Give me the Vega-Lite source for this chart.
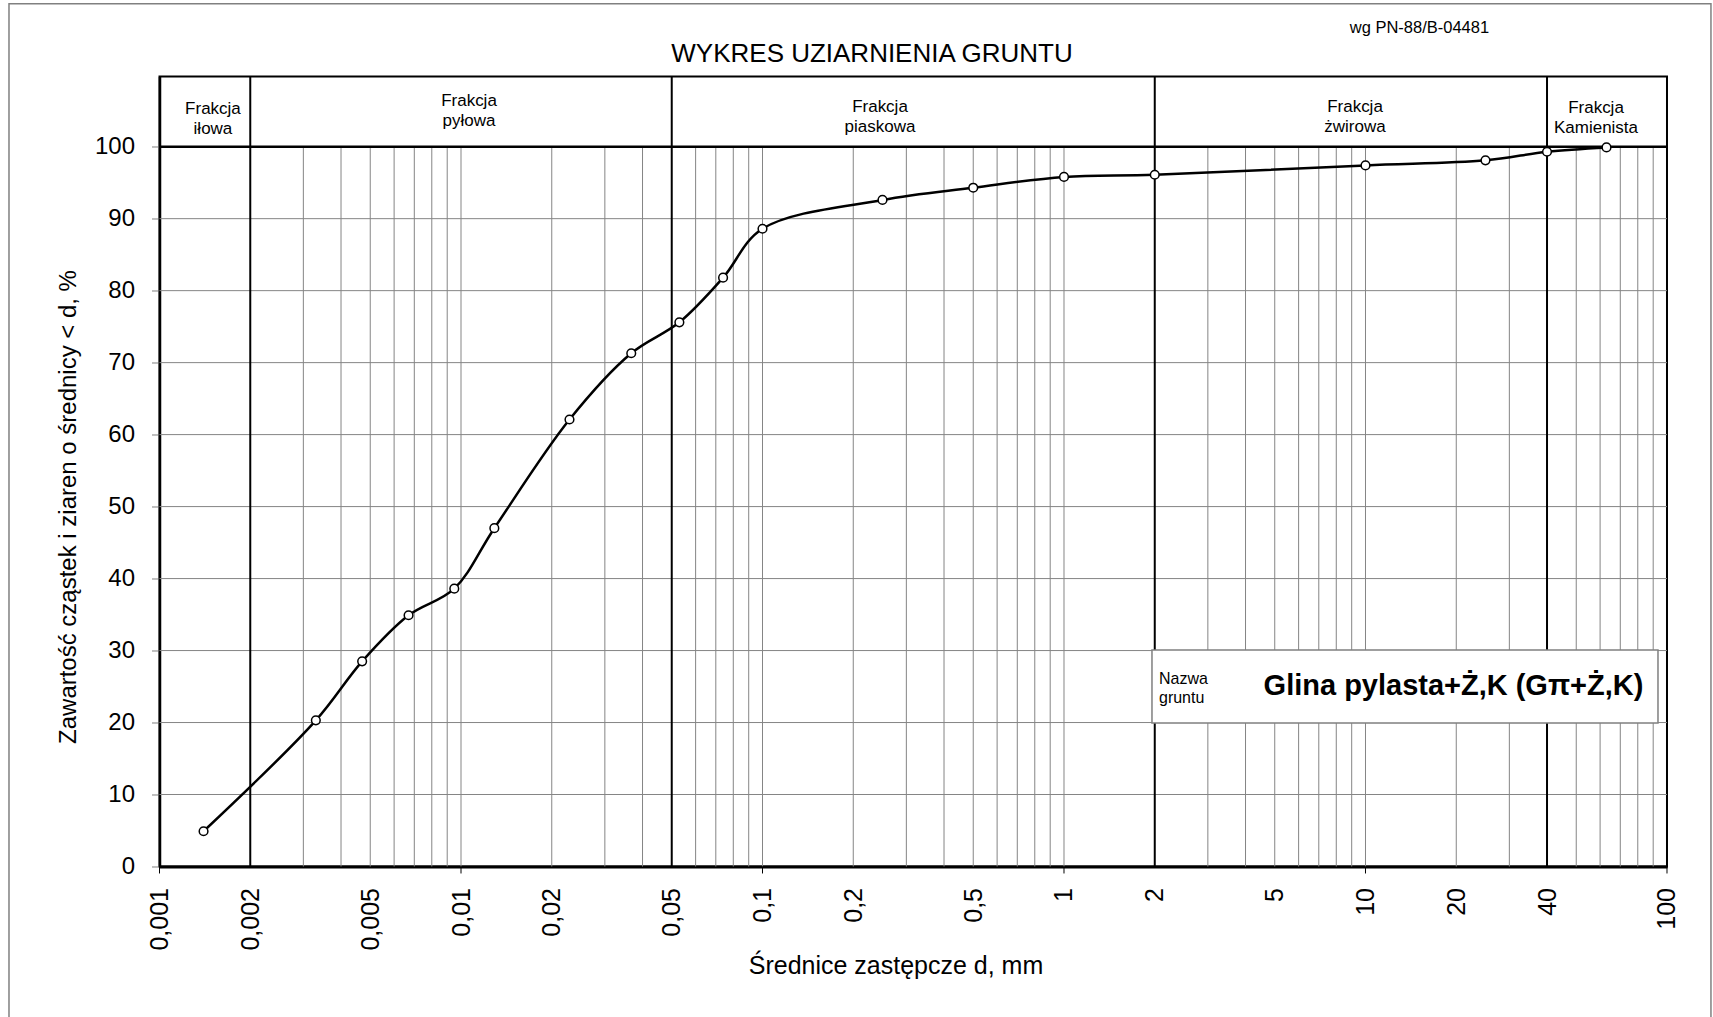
{
  "$schema": "https://vega.github.io/schema/vega-lite/v6.json",
  "width": 1507.5,
  "height": 790,
  "autosize": {"type": "none"},
  "padding": {"left": 159.5, "top": 76.5, "right": 46, "bottom": 150.6},
  "background": "white",
  "config": {
    "font": "Liberation Sans",
    "view": {"stroke": "black", "strokeWidth": 2},
    "axis": {"labelColor": "black", "titleColor": "black", "labelFont": "Liberation Sans", "titleFont": "Liberation Sans"}
  },
  "datasets": {
    "sieve": [
      {"d": 0.0014, "p": 4.9},
      {"d": 0.0033, "p": 20.3},
      {"d": 0.0047, "p": 28.5},
      {"d": 0.0067, "p": 34.9},
      {"d": 0.0095, "p": 38.6},
      {"d": 0.0129, "p": 47.0},
      {"d": 0.0229, "p": 62.1},
      {"d": 0.0367, "p": 71.3},
      {"d": 0.053, "p": 75.6},
      {"d": 0.074, "p": 81.8},
      {"d": 0.1, "p": 88.6},
      {"d": 0.25, "p": 92.6},
      {"d": 0.5, "p": 94.3},
      {"d": 1.0, "p": 95.8},
      {"d": 2.0, "p": 96.1},
      {"d": 10, "p": 97.4},
      {"d": 25, "p": 98.1},
      {"d": 40, "p": 99.3},
      {"d": 63, "p": 99.9}
    ],
    "vgrid": [
      {"v": 0.003}, {"v": 0.004}, {"v": 0.005}, {"v": 0.006}, {"v": 0.007}, {"v": 0.008}, {"v": 0.009},
      {"v": 0.01}, {"v": 0.02}, {"v": 0.03}, {"v": 0.04}, {"v": 0.06}, {"v": 0.07}, {"v": 0.08}, {"v": 0.09},
      {"v": 0.1}, {"v": 0.2}, {"v": 0.3}, {"v": 0.4}, {"v": 0.5}, {"v": 0.6}, {"v": 0.7}, {"v": 0.8}, {"v": 0.9},
      {"v": 1}, {"v": 3}, {"v": 4}, {"v": 5}, {"v": 6}, {"v": 7}, {"v": 8}, {"v": 9},
      {"v": 10}, {"v": 20}, {"v": 30}, {"v": 50}, {"v": 60}, {"v": 70}, {"v": 80}, {"v": 90}
    ],
    "decades": [{"v": 0.001}, {"v": 0.01}, {"v": 0.1}, {"v": 1}, {"v": 10}, {"v": 100}],
    "hgrid": [{"h": 10}, {"h": 20}, {"h": 30}, {"h": 40}, {"h": 50}, {"h": 60}, {"h": 70}, {"h": 80}, {"h": 90}],
    "topline": [{"h": 100}],
    "limits": [{"v": 0.002}, {"v": 0.05}, {"v": 2}, {"v": 40}],
    "fractions": [
      {"x": 0.001504, "y": 104.51, "label": "Frakcja\niłowa"},
      {"x": 0.01063, "y": 105.6, "label": "Frakcja\npyłowa"},
      {"x": 0.2453, "y": 104.84, "label": "Frakcja\npiaskowa"},
      {"x": 9.23, "y": 104.84, "label": "Frakcja\nżwirowa"},
      {"x": 58.15, "y": 104.66, "label": "Frakcja\nKamienista"}
    ],
    "namebox": [{"x1": 1.958, "x2": 93.35, "y1": 19.92, "y2": 30.06}],
    "namecap": [{"x": 2.066, "y": 25.33, "t": "Nazwa\ngruntu"}],
    "soilname": [{"x": 19.58, "y": 23.81, "t": "Glina pylasta+Ż,K (Gπ+Ż,K)"}],
    "heading": [{"x": 0.2308, "y": 111.74, "t": "WYKRES UZIARNIENIA GRUNTU"}],
    "norm": [{"x": 15.1, "y": 115.77, "t": "wg PN-88/B-04481"}],
    "frame": [{"x1": 0.0003168, "x2": 139.9, "y1": -22.7, "y2": 119.86}]
  },
  "layer": [
    {
      "data": {"name": "frame"},
      "mark": {"type": "rect", "filled": false, "stroke": "#808080", "strokeWidth": 1.5},
      "encoding": {
        "x": {"field": "x1", "type": "quantitative", "scale": {"type": "log", "domain": [0.001, 100], "nice": false}},
        "x2": {"field": "x2"},
        "y": {"field": "y1", "type": "quantitative", "scale": {"domain": [0, 109.75], "nice": false, "zero": false}},
        "y2": {"field": "y2"}
      }
    },
    {
      "data": {"name": "vgrid"},
      "mark": {"type": "rule", "stroke": "#858585", "strokeWidth": 1},
      "encoding": {
        "x": {"field": "v", "type": "quantitative", "scale": {"type": "log", "domain": [0.001, 100], "nice": false}},
        "y": {"datum": 0, "type": "quantitative", "scale": {"domain": [0, 109.75], "nice": false, "zero": false}},
        "y2": {"datum": 100}
      }
    },
    {
      "data": {"name": "decades"},
      "mark": {"type": "rule", "stroke": "black", "strokeWidth": 1},
      "encoding": {
        "x": {"field": "v", "type": "quantitative", "scale": {"type": "log", "domain": [0.001, 100], "nice": false}},
        "y": {"datum": 0, "type": "quantitative", "scale": {"domain": [0, 109.75], "nice": false, "zero": false}},
        "y2": {"datum": -0.97}
      }
    },
    {
      "data": {"name": "hgrid"},
      "mark": {"type": "rule", "stroke": "#858585", "strokeWidth": 1},
      "encoding": {
        "x": {"datum": 0.001, "type": "quantitative", "scale": {"type": "log", "domain": [0.001, 100], "nice": false}},
        "x2": {"datum": 100},
        "y": {"field": "h", "type": "quantitative", "scale": {"domain": [0, 109.75], "nice": false, "zero": false}}
      }
    },
    {
      "data": {"name": "limits"},
      "mark": {"type": "rule", "stroke": "black", "strokeWidth": 2},
      "encoding": {
        "x": {"field": "v", "type": "quantitative", "scale": {"type": "log", "domain": [0.001, 100], "nice": false}},
        "y": {"datum": 0, "type": "quantitative", "scale": {"domain": [0, 109.75], "nice": false, "zero": false}},
        "y2": {"datum": 109.75}
      }
    },
    {
      "data": {"name": "topline"},
      "mark": {"type": "rule", "stroke": "black", "strokeWidth": 2.5},
      "encoding": {
        "x": {"datum": 0.001, "type": "quantitative", "scale": {"type": "log", "domain": [0.001, 100], "nice": false}},
        "x2": {"datum": 100},
        "y": {"field": "h", "type": "quantitative", "scale": {"domain": [0, 109.75], "nice": false, "zero": false}}
      }
    },
    {
      "data": {"name": "namebox"},
      "mark": {"type": "rect", "fill": "white", "stroke": "#808080", "strokeWidth": 1.5},
      "encoding": {
        "x": {"field": "x1", "type": "quantitative", "scale": {"type": "log", "domain": [0.001, 100], "nice": false}},
        "x2": {"field": "x2"},
        "y": {"field": "y1", "type": "quantitative", "scale": {"domain": [0, 109.75], "nice": false, "zero": false}},
        "y2": {"field": "y2"}
      }
    },
    {
      "data": {"name": "sieve"},
      "mark": {"type": "line", "interpolate": "catmull-rom", "color": "black", "strokeWidth": 2.5},
      "encoding": {
        "x": {
          "field": "d", "type": "quantitative",
          "scale": {"type": "log", "domain": [0.001, 100], "nice": false},
          "axis": {
            "values": [0.001, 0.002, 0.005, 0.01, 0.02, 0.05, 0.1, 0.2, 0.5, 1, 2, 5, 10, 20, 40, 100],
            "labelExpr": "replace(toString(datum.value), '.', ',')",
            "labelAngle": 270, "labelAlign": "right", "labelBaseline": "middle",
            "labelFontSize": 25, "labelPadding": 21, "labelFlush": false, "labelOverlap": false,
            "ticks": false, "grid": false, "domainColor": "black", "domainWidth": 3,
            "title": "Średnice zastępcze d, mm", "titleFontSize": 25, "titleFontWeight": "normal",
            "titleX": 736, "titleY": 106.6, "titleBaseline": "alphabetic", "titleAlign": "center"
          }
        },
        "y": {
          "field": "p", "type": "quantitative",
          "scale": {"domain": [0, 109.75], "nice": false, "zero": false},
          "axis": {
            "values": [0, 10, 20, 30, 40, 50, 60, 70, 80, 90, 100],
            "labelFontSize": 24, "labelPadding": 17,
            "ticks": true, "tickSize": 8, "tickColor": "#808080",
            "grid": false, "domainColor": "black", "domainWidth": 2.5,
            "title": "Zawartość cząstek i ziaren o średnicy < d, %", "titleFontSize": 24, "titleFontWeight": "normal",
            "titleAngle": 270, "titleX": -91.5, "titleY": 430, "titleBaseline": "middle", "titleAlign": "center"
          }
        }
      }
    },
    {
      "data": {"name": "sieve"},
      "mark": {"type": "point", "shape": "circle", "filled": true, "fill": "white", "stroke": "black", "strokeWidth": 1.5, "size": 75, "opacity": 1},
      "encoding": {
        "x": {"field": "d", "type": "quantitative", "scale": {"type": "log", "domain": [0.001, 100], "nice": false}},
        "y": {"field": "p", "type": "quantitative", "scale": {"domain": [0, 109.75], "nice": false, "zero": false}}
      }
    },
    {
      "data": {"name": "fractions"},
      "mark": {"type": "text", "align": "center", "baseline": "alphabetic", "fontSize": 17, "lineBreak": "\n", "lineHeight": 20, "color": "black"},
      "encoding": {
        "x": {"field": "x", "type": "quantitative", "scale": {"type": "log", "domain": [0.001, 100], "nice": false}},
        "y": {"field": "y", "type": "quantitative", "scale": {"domain": [0, 109.75], "nice": false, "zero": false}},
        "text": {"field": "label"}
      }
    },
    {
      "data": {"name": "namecap"},
      "mark": {"type": "text", "align": "left", "baseline": "alphabetic", "fontSize": 16, "lineBreak": "\n", "lineHeight": 19, "color": "black"},
      "encoding": {
        "x": {"field": "x", "type": "quantitative", "scale": {"type": "log", "domain": [0.001, 100], "nice": false}},
        "y": {"field": "y", "type": "quantitative", "scale": {"domain": [0, 109.75], "nice": false, "zero": false}},
        "text": {"field": "t"}
      }
    },
    {
      "data": {"name": "soilname"},
      "mark": {"type": "text", "align": "center", "baseline": "alphabetic", "fontSize": 29, "fontWeight": "bold", "color": "black"},
      "encoding": {
        "x": {"field": "x", "type": "quantitative", "scale": {"type": "log", "domain": [0.001, 100], "nice": false}},
        "y": {"field": "y", "type": "quantitative", "scale": {"domain": [0, 109.75], "nice": false, "zero": false}},
        "text": {"field": "t"}
      }
    },
    {
      "data": {"name": "heading"},
      "mark": {"type": "text", "align": "center", "baseline": "alphabetic", "fontSize": 26, "color": "black"},
      "encoding": {
        "x": {"field": "x", "type": "quantitative", "scale": {"type": "log", "domain": [0.001, 100], "nice": false}},
        "y": {"field": "y", "type": "quantitative", "scale": {"domain": [0, 109.75], "nice": false, "zero": false}},
        "text": {"field": "t"}
      }
    },
    {
      "data": {"name": "norm"},
      "mark": {"type": "text", "align": "center", "baseline": "alphabetic", "fontSize": 16.5, "color": "black"},
      "encoding": {
        "x": {"field": "x", "type": "quantitative", "scale": {"type": "log", "domain": [0.001, 100], "nice": false}},
        "y": {"field": "y", "type": "quantitative", "scale": {"domain": [0, 109.75], "nice": false, "zero": false}},
        "text": {"field": "t"}
      }
    }
  ]
}
